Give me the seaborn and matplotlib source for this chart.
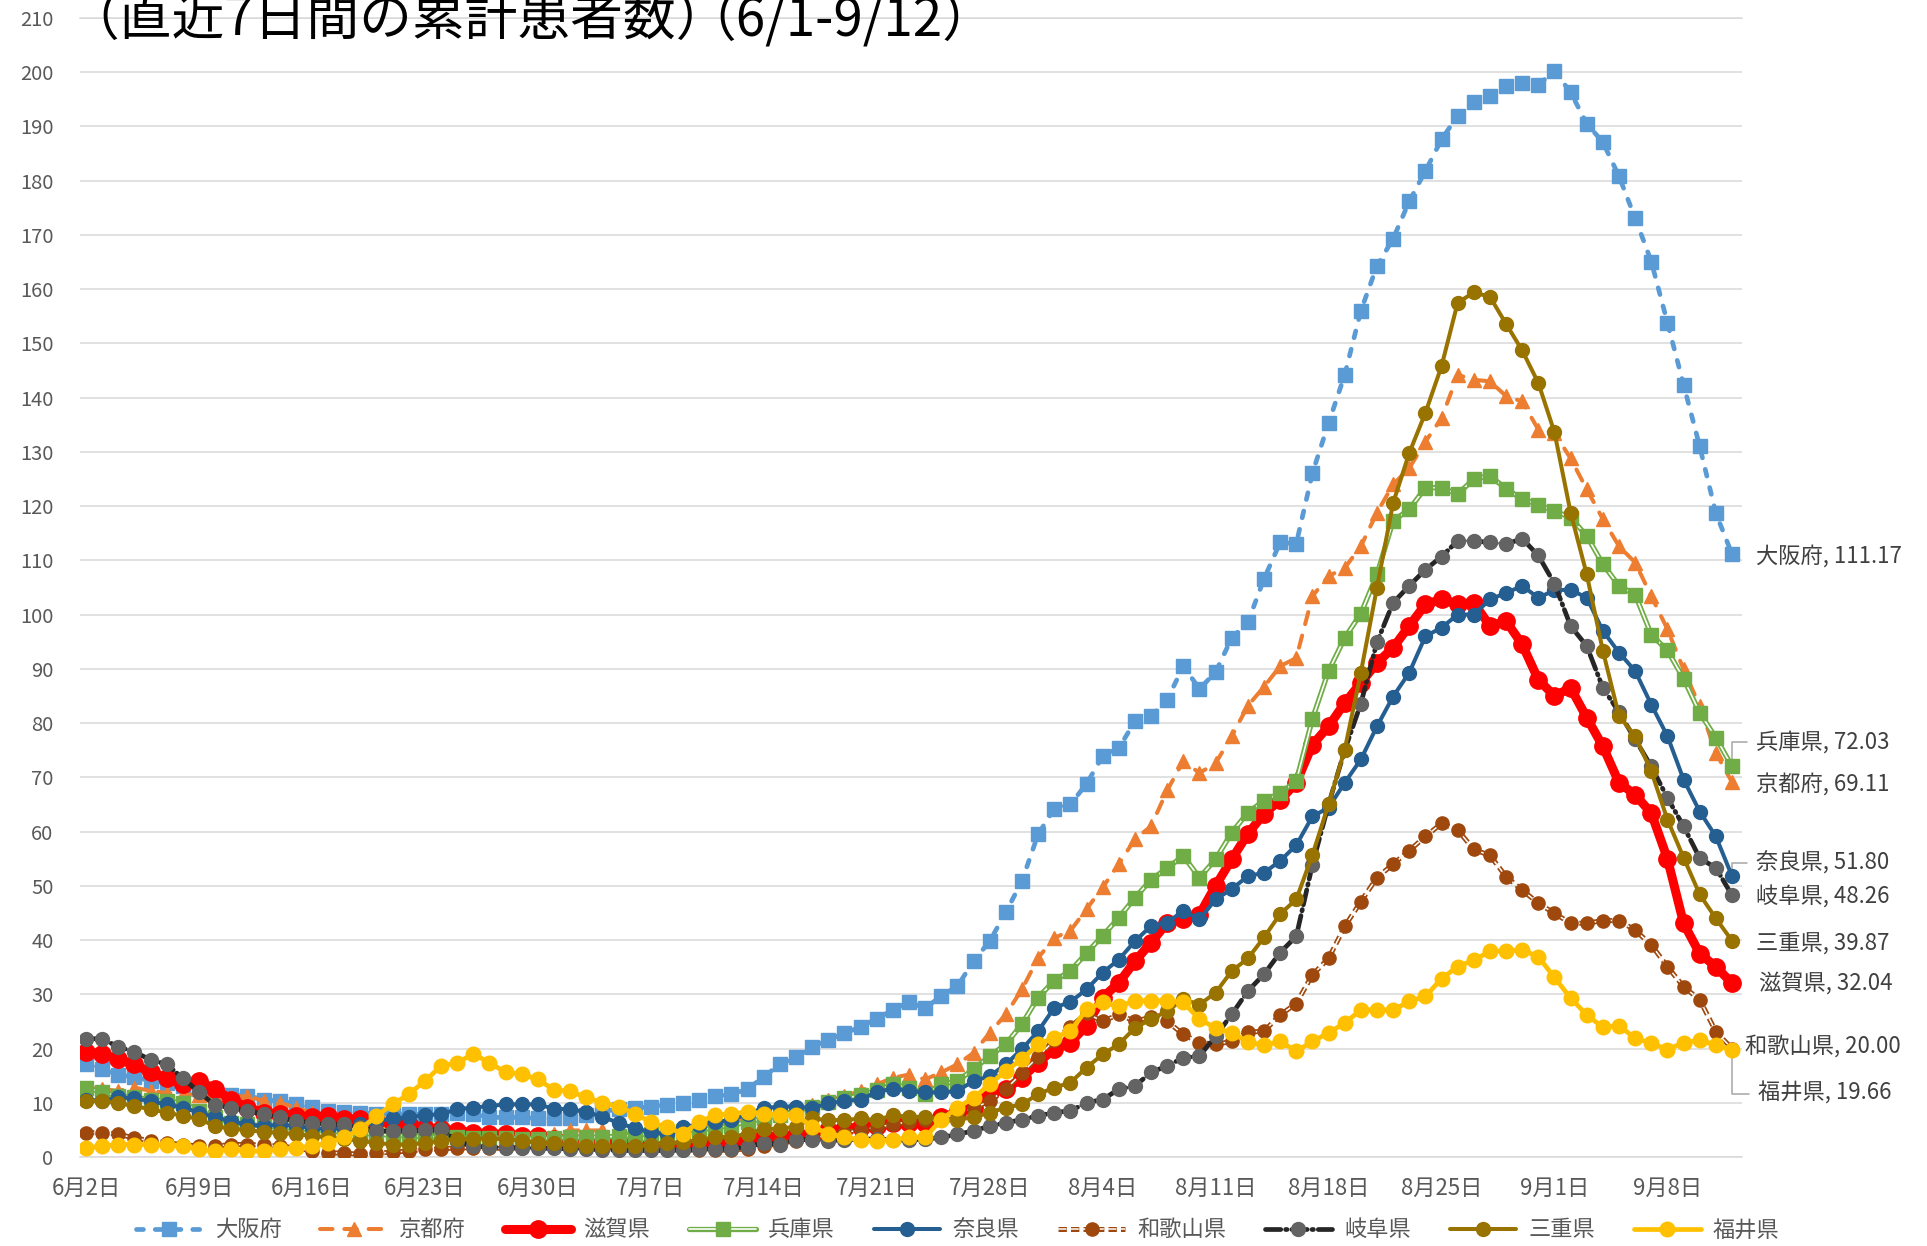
import numpy as np
import pandas as pd
import matplotlib
matplotlib.use("Agg")
import matplotlib.pyplot as plt
from matplotlib.lines import Line2D
from matplotlib.legend_handler import HandlerTuple
import seaborn as sns

# 日付 (6/2 - 9/12)
dates = pd.date_range("2021-06-02", "2021-09-12", freq="D")
tick_labels = [f"{d.month}月{d.day}日" for d in dates[::7]]

# 直近7日間の累計患者数 (人口10万人あたり)
osaka = [17.1, 16.2, 15.1, 14.8, 14.0, 13.7, 13.0, 12.5, 12.0, 11.5,
         11.3, 10.6, 10.3, 9.8, 9.2, 8.5, 8.3, 8.2, 7.9, 7.9,
         7.9, 7.9, 7.9, 8.2, 7.9, 7.3, 7.3, 7.3, 7.1, 7.1,
         7.1, 7.8, 8.4, 8.8, 9.0, 9.3, 9.6, 9.9, 10.5, 11.2,
         11.6, 12.5, 14.8, 17.1, 18.4, 20.3, 21.6, 22.8, 24.0, 25.5,
         27.1, 28.6, 27.4, 29.7, 31.5, 36.1, 39.8, 45.1, 50.9, 59.5,
         64.2, 65.0, 68.8, 73.9, 75.4, 80.3, 81.3, 84.3, 90.5, 86.3,
         89.4, 95.7, 98.6, 106.6, 113.3, 113.1, 126.1, 135.3, 144.2, 156.0,
         164.3, 169.3, 176.2, 181.8, 187.6, 192.0, 194.6, 195.6, 197.4, 198.0,
         197.7, 200.2, 196.3, 190.5, 187.1, 180.8, 173.1, 165.1, 153.8, 142.4,
         131.0, 118.7, 111.17]
kyoto = [12.8, 12.5, 12.2, 12.8, 12.2, 11.8, 11.5, 11.5, 11.2, 11.0,
         11.3, 10.3, 10.0, 9.1, 8.2, 7.5, 7.0, 6.5, 6.0, 5.5,
         5.2, 5.0, 4.8, 4.5, 4.2, 4.0, 3.9, 3.8, 3.6, 4.3,
         4.9, 4.9, 4.9, 4.5, 4.3, 4.5, 4.8, 5.2, 5.5, 6.0,
         6.5, 7.0, 7.5, 8.0, 8.5, 9.5, 10.5, 11.2, 12.2, 13.4,
         14.6, 15.2, 14.3, 15.6, 17.1, 19.2, 22.9, 26.3, 30.9, 36.7,
         40.4, 41.7, 45.7, 49.7, 54.0, 58.6, 61.0, 67.6, 73.0, 70.8,
         72.6, 77.6, 83.2, 86.7, 90.5, 92.0, 103.4, 107.1, 108.6, 112.6,
         118.8, 124.0, 127.0, 131.9, 136.2, 144.2, 143.3, 143.0, 140.3, 139.3,
         134.1, 133.5, 128.8, 123.1, 117.6, 112.6, 109.6, 103.4, 97.3, 89.9,
         83.1, 74.5, 69.11]
shiga = [19.4, 19.0, 18.0, 17.1, 15.6, 14.6, 13.4, 14.0, 12.5, 10.6,
         9.1, 8.2, 7.9, 7.6, 7.3, 7.6, 7.0, 7.0, 6.6, 6.3,
         6.0, 5.4, 5.1, 4.8, 4.5, 4.2, 4.2, 3.9, 3.8, 3.4,
         3.3, 3.0, 3.0, 2.6, 2.3, 2.0, 2.0, 2.0, 2.2, 2.4,
         2.8, 3.2, 3.6, 3.8, 4.0, 4.2, 4.9, 5.2, 5.6, 5.8,
         6.2, 6.3, 6.3, 7.3, 8.2, 9.1, 11.9, 12.5, 14.6, 17.4,
         19.9, 21.1, 24.2, 29.4, 32.1, 36.1, 39.5, 43.2, 43.8, 44.7,
         50.0, 54.9, 59.6, 63.3, 65.8, 69.0, 76.0, 79.4, 83.7, 87.4,
         91.1, 93.9, 97.9, 101.9, 102.8, 101.9, 102.2, 97.9, 98.8, 94.5,
         88.0, 85.0, 86.5, 81.0, 75.7, 69.0, 66.8, 63.4, 55.0, 43.1,
         37.5, 35.1, 32.04]
hyogo = [12.8, 11.9, 11.3, 11.0, 10.6, 10.3, 10.0, 8.5, 7.3, 6.3,
         6.0, 5.7, 5.5, 5.3, 5.0, 4.8, 4.6, 4.4, 4.2, 4.0,
         3.9, 3.8, 3.7, 3.6, 3.5, 3.5, 3.5, 3.4, 3.4, 3.5,
         3.6, 3.6, 3.7, 3.8, 4.0, 4.3, 4.5, 4.8, 5.0, 5.4,
         5.8, 6.5, 7.1, 7.7, 8.5, 9.3, 10.2, 10.8, 11.4, 12.3,
         13.4, 12.8, 11.6, 13.4, 14.0, 16.2, 18.6, 20.8, 24.5, 29.4,
         32.5, 34.3, 37.6, 40.8, 44.1, 47.8, 51.1, 53.3, 55.5, 51.5,
         54.9, 59.8, 63.5, 65.7, 67.1, 69.3, 80.8, 89.6, 95.7, 100.2,
         107.4, 117.3, 119.4, 123.4, 123.4, 122.2, 125.0, 125.6, 123.2, 121.3,
         120.3, 119.1, 117.9, 114.5, 109.3, 105.3, 103.7, 96.3, 93.4, 88.2,
         81.9, 77.3, 72.03]
nara = [10.6, 10.3, 11.0, 10.8, 10.3, 9.7, 9.1, 8.2, 7.3, 6.6,
        6.0, 5.7, 6.0, 5.7, 5.4, 5.1, 5.4, 6.0, 6.6, 7.1,
        7.3, 7.7, 7.9, 8.8, 9.1, 9.4, 9.7, 9.7, 9.7, 8.9,
        8.8, 8.3, 7.4, 6.3, 5.3, 4.6, 4.2, 5.6, 5.9, 6.5,
        6.8, 8.0, 9.0, 9.3, 9.3, 9.0, 9.9, 10.3, 10.6, 12.0,
        12.6, 12.2, 11.9, 11.9, 12.2, 14.0, 14.9, 17.1, 19.9, 23.2,
        27.5, 28.6, 30.9, 34.0, 36.4, 39.8, 42.6, 43.2, 45.4, 43.8,
        47.5, 49.4, 51.8, 52.4, 54.6, 57.5, 62.8, 64.4, 69.0, 73.3,
        79.4, 84.9, 89.3, 96.0, 97.6, 100.0, 100.0, 102.8, 104.0, 105.3,
        103.1, 104.5, 104.6, 103.1, 97.0, 93.0, 89.6, 83.4, 77.6, 69.6,
        63.7, 59.1, 51.80]
wakayama = [4.5, 4.5, 4.2, 3.5, 3.0, 2.6, 2.3, 2.0, 2.0, 2.3,
            2.3, 2.2, 2.0, 1.7, 1.1, 0.8, 0.7, 0.5, 0.7, 0.9,
            1.1, 1.4, 1.5, 1.7, 1.7, 1.6, 1.6, 1.7, 1.8, 1.8,
            1.8, 1.8, 1.8, 1.8, 1.7, 1.6, 1.5, 1.3, 1.2, 1.2,
            1.3, 1.5, 2.0, 2.5, 3.0, 3.5, 4.0, 4.5, 5.0, 5.5,
            6.0, 6.5, 6.8, 7.0, 8.0, 9.0, 10.3, 12.5, 15.5, 18.5,
            21.5, 24.0, 26.5, 25.0, 26.3, 25.0, 25.8, 25.0, 22.6, 21.1,
            20.8, 21.3, 23.0, 23.2, 26.2, 28.3, 33.6, 36.6, 42.5, 47.1,
            51.5, 54.0, 56.5, 59.1, 61.5, 60.3, 56.7, 55.6, 51.7, 49.2,
            46.8, 44.9, 43.1, 43.1, 43.6, 43.6, 41.8, 39.1, 35.1, 31.4,
            29.0, 23.1, 20.00]
gifu = [21.8, 21.8, 20.3, 19.4, 17.9, 17.1, 14.5, 12.0, 9.5, 9.1,
        8.5, 7.9, 7.3, 6.6, 6.3, 6.0, 6.0, 5.5, 4.8, 4.8,
        4.8, 4.9, 5.1, 3.0, 2.0, 1.8, 1.7, 1.7, 1.6, 1.6,
        1.5, 1.5, 1.3, 1.2, 1.2, 1.2, 1.2, 1.3, 1.4, 1.5,
        1.5, 1.9, 2.6, 2.3, 3.2, 3.2, 3.0, 3.2, 3.3, 3.3,
        3.2, 3.1, 3.3, 3.6, 4.2, 4.8, 5.7, 6.3, 6.9, 7.6,
        8.2, 8.5, 10.0, 10.6, 12.5, 13.1, 15.6, 16.8, 18.3, 18.6,
        22.3, 26.3, 30.6, 33.7, 37.7, 40.7, 53.9, 65.0, 75.0, 83.6,
        94.9, 102.2, 105.3, 108.3, 110.7, 113.6, 113.6, 113.3, 113.0, 114.0,
        110.9, 105.7, 97.9, 94.2, 86.5, 82.0, 77.0, 72.0, 66.2, 61.0,
        55.1, 53.3, 48.26]
mie = [10.3, 10.3, 9.9, 9.4, 8.8, 8.2, 7.6, 7.0, 5.7, 5.2,
       5.0, 4.6, 4.5, 4.2, 3.9, 3.6, 3.3, 3.0, 2.6, 2.3,
       2.3, 2.6, 3.0, 3.3, 3.4, 3.4, 3.3, 3.0, 2.6, 2.5,
       2.2, 2.0, 2.0, 2.0, 2.0, 2.2, 2.5, 2.8, 3.1, 3.7,
       3.7, 4.3, 5.2, 5.2, 5.6, 7.1, 6.8, 6.8, 7.1, 6.8,
       7.7, 7.4, 7.4, 7.0, 6.9, 7.3, 8.2, 9.1, 9.7, 11.6,
       12.8, 13.7, 16.5, 18.9, 20.8, 23.8, 25.4, 26.9, 29.1, 28.1,
       30.3, 34.3, 36.6, 40.5, 44.8, 47.5, 55.7, 65.0, 75.1, 89.3,
       105.0, 120.6, 129.8, 137.2, 145.8, 157.5, 159.4, 158.6, 153.6, 148.7,
       142.7, 133.6, 118.8, 107.4, 93.3, 81.3, 77.6, 71.1, 62.2, 55.2,
       48.4, 44.0, 39.87]
fukui = [1.7, 2.0, 2.3, 2.3, 2.3, 2.2, 2.0, 1.4, 1.1, 1.4,
         1.1, 1.1, 1.4, 1.7, 2.0, 2.6, 3.6, 5.1, 7.6, 9.7,
         11.6, 14.0, 16.8, 17.4, 19.0, 17.4, 15.6, 15.3, 14.3, 12.4,
         12.1, 11.0, 10.0, 9.3, 8.0, 6.4, 5.5, 4.3, 6.5, 7.7,
         8.0, 8.3, 8.0, 7.7, 7.7, 5.6, 4.3, 3.7, 3.1, 3.0,
         3.2, 3.6, 3.6, 6.9, 9.1, 10.9, 13.4, 15.9, 18.0, 20.8,
         22.0, 23.2, 27.2, 28.5, 27.8, 28.8, 28.8, 28.8, 28.5, 25.4,
         23.8, 22.9, 21.2, 20.6, 21.3, 19.5, 21.3, 22.9, 24.7, 27.1,
         27.1, 27.1, 28.7, 29.6, 32.9, 35.1, 36.3, 37.9, 38.0, 38.2,
         36.9, 33.1, 29.3, 26.2, 23.9, 24.2, 21.9, 21.0, 19.8, 21.1,
         21.5, 20.7, 19.66]

names = ["大阪府", "京都府", "滋賀県", "兵庫県", "奈良県", "和歌山県", "岐阜県", "三重県", "福井県"]
values = [osaka, kyoto, shiga, hyogo, nara, wakayama, gifu, mie, fukui]

# 線のスタイル (Excel 風)
styles = [
    dict(color="#5B9BD5", lw=3.4, ls=(0, (5, 8.5)), cap="round", marker="s", ms=10),
    dict(color="#ED7D31", lw=2.9, ls=(0, (9, 8.5)), cap="round", marker="^", ms=10),
    dict(color="#FF0000", lw=6.5, ls="-", cap="round", marker="o", ms=12.5),
    dict(color="#70AD47", lw=3.8, ls="-", cap="round", marker="s", ms=9.5, inner=1.2),
    dict(color="#255E91", lw=2.9, ls="-", cap="round", marker="o", ms=10),
    dict(color="#9E480E", lw=3.6, ls=(0, (6, 3)), cap="butt", marker="o", ms=9.5, inner=1.1),
    dict(color="#262626", lw=3.4, ls=(0, (11, 3.5, 1, 3.5)), cap="round", marker="o", ms=10,
         mcolor="#636363"),
    dict(color="#997300", lw=2.9, ls="-", cap="round", marker="o", ms=10),
    dict(color="#FFC000", lw=3.4, ls="-", cap="round", marker="o", ms=10.5),
]

sns.set_style("white")
plt.rcParams["font.family"] = ["Noto Sans CJK JP", "DejaVu Sans"]
plt.rcParams["lines.scale_dashes"] = False

W, H = 1927, 1246
fig = plt.figure(figsize=(W / 100, H / 100), dpi=100)
ax = fig.add_axes([80 / W, 1 - 1157 / H, 1662 / W, 1139 / H])

day = np.arange(len(dates))
handles = []
for k, (name, vals, st) in enumerate(zip(names, values, styles)):
    df = pd.DataFrame({"day": day, "value": vals})
    z = 3 + k
    mc = st.get("mcolor", st["color"])
    sns.lineplot(data=df, x="day", y="value", ax=ax, color=st["color"], lw=st["lw"],
                 linestyle=st["ls"], dash_capstyle=st["cap"], solid_capstyle="round",
                 errorbar=None, zorder=z)
    parts = [Line2D([], [], color=st["color"], lw=st["lw"], linestyle=st["ls"],
                    dash_capstyle=st["cap"])]
    if "inner" in st:
        sns.lineplot(data=df, x="day", y="value", ax=ax, color="white", lw=st["inner"],
                     linestyle=st["ls"], dash_capstyle=st["cap"], errorbar=None,
                     zorder=z + 0.1)
        parts.append(Line2D([], [], color="white", lw=st["inner"], linestyle=st["ls"],
                            dash_capstyle=st["cap"]))
    sns.lineplot(data=df, x="day", y="value", ax=ax, color=mc, linestyle="none",
                 marker=st["marker"], markersize=st["ms"], mec=mc, mew=1,
                 errorbar=None, zorder=z + 0.2)
    parts.append(Line2D([], [], linestyle="none", marker=st["marker"], ms=st["ms"],
                        color=mc, mec=mc))
    handles.append(tuple(parts))

ax.set_xlim(-0.372, 102.62)
ax.set_ylim(0, 210)
ax.set_yticks(range(0, 211, 10))
ax.set_xticks(day[::7])
ax.set_xticklabels(tick_labels)
ax.set_xlabel("")
ax.set_ylabel("")
ax.yaxis.grid(True, color="#D9D9D9", lw=1.1)
ax.set_axisbelow(True)
for side in ["left", "right"]:
    ax.spines[side].set_visible(False)
for side in ["top", "bottom"]:
    ax.spines[side].set_color("#D9D9D9")
    ax.spines[side].set_linewidth(1.1)
ax.tick_params(axis="x", length=0, pad=14, labelsize=16, labelcolor="#595959")
ax.tick_params(axis="y", length=0, pad=19, labelsize=14.5, labelcolor="#595959")

# 右端のデータラベル
label_pos = {
    "大阪府": (103.5, 110.8, False),
    "兵庫県": (103.5, 76.5, True),
    "京都府": (103.5, 68.8, False),
    "奈良県": (103.5, 54.2, True),
    "岐阜県": (103.5, 48.0, False),
    "三重県": (103.5, 39.5, False),
    "滋賀県": (103.7, 31.9, False),
    "和歌山県": (102.8, 20.5, False),
    "福井県": (103.6, 11.7, True),
}
for name, vals in zip(names, values):
    tx, ty, leader = label_pos[name]
    text = f"{name}, {vals[-1]:.2f}"
    if leader:
        ax.annotate(text, xy=(day[-1], vals[-1]), xytext=(tx, ty), ha="left", va="center",
                    fontsize=16, color="#404040", annotation_clip=False,
                    arrowprops=dict(arrowstyle="-", color="#A6A6A6", lw=1.1,
                                    connectionstyle="angle,angleA=0,angleB=90,rad=0",
                                    relpos=(0, 0.5), shrinkA=4, shrinkB=0))
    else:
        ax.text(tx, ty, text, ha="left", va="center", fontsize=16, color="#404040")

# タイトル (上端で切れている)
fig.text(66 / W, 1 - 35 / H, "（直近7日間の累計患者数）", fontsize=38,
         color="black", ha="left", va="baseline")
fig.text(683 / W, 1 - 35 / H, "（6/1-9/12）", fontsize=38,
         color="black", ha="left", va="baseline")

fig.legend(handles, names, handler_map={tuple: HandlerTuple(ndivide=1, pad=0)},
           loc="center", bbox_to_anchor=(0.497, 0.013), ncol=9, frameon=False,
           fontsize=16, handlelength=3.0, handletextpad=0.55, columnspacing=1.75,
           labelcolor="#595959")

fig.savefig("out.png", dpi=100)
